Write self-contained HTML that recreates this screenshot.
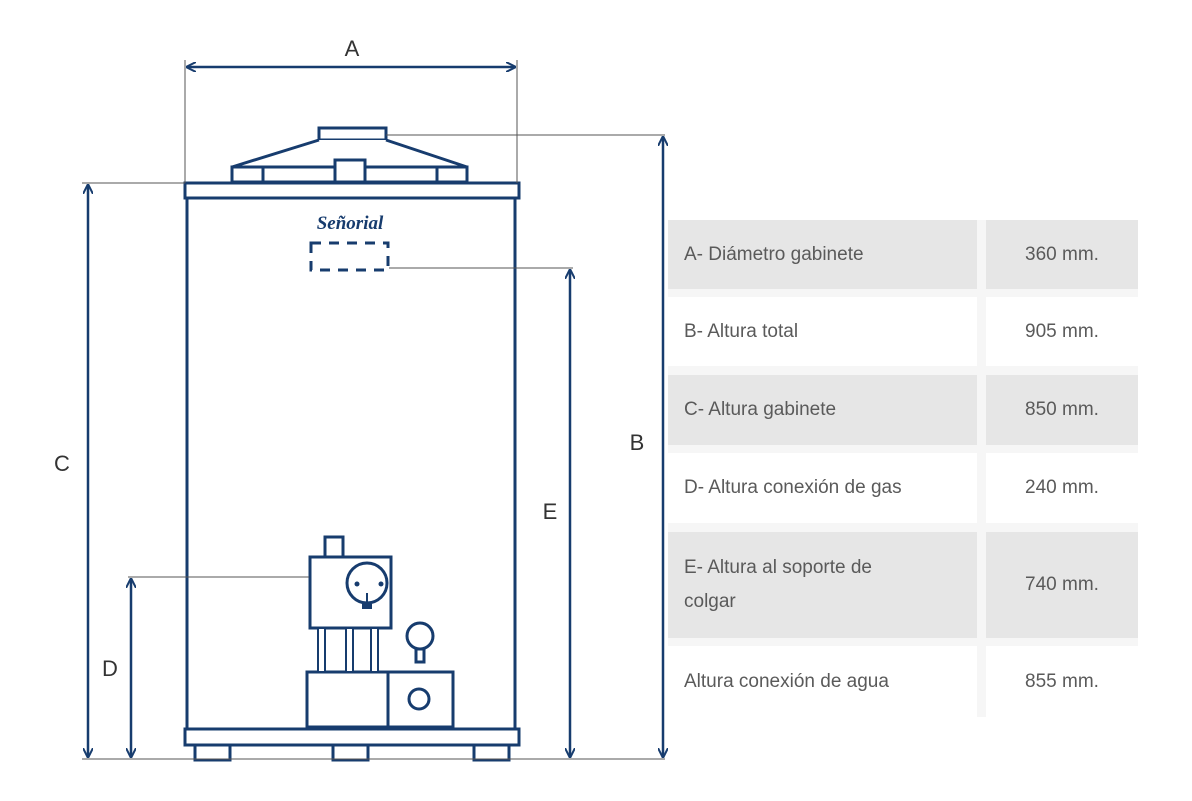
<!DOCTYPE html>
<html><head><meta charset="utf-8"><style>
body{margin:0;width:1192px;height:801px;background:#fff;overflow:hidden;position:relative;font-family:"Liberation Sans",sans-serif}
.c{position:absolute;font-size:19px;color:#5a5a5a;display:flex;align-items:center}
</style></head><body>
<svg width="1192" height="801" style="position:absolute;left:0;top:0">
<defs><marker id="ar" markerWidth="10" markerHeight="10" refX="9" refY="5" orient="auto-start-reverse" markerUnits="userSpaceOnUse"><path d="M0,0 L10,5 L0,10" fill="none" stroke="#173c6e" stroke-width="2"/></marker></defs>
<g stroke="#173c6e" stroke-width="3" fill="#fff">
<rect x="319" y="128" width="67" height="12"/>
<path d="M319,140 L232,167 L467,167 L386,140"/>
<rect x="232" y="167" width="235" height="15"/>
<rect x="232" y="167" width="31" height="15"/><rect x="437" y="167" width="30" height="15"/>
<rect x="335" y="160" width="30" height="22"/>
<rect x="187" y="198" width="328" height="531"/>
<rect x="185" y="183" width="334" height="15"/>
<rect x="185" y="729" width="334" height="16"/>
<rect x="195" y="745" width="35" height="15"/><rect x="333" y="745" width="35" height="15"/><rect x="474" y="745" width="35" height="15"/>
<rect x="311" y="243" width="77" height="27" stroke-dasharray="10,8"/>
<rect x="325" y="537" width="18" height="20"/>
<rect x="310" y="557" width="81" height="71"/>
<circle cx="367" cy="583" r="20"/>
<rect x="307" y="672" width="81" height="55"/><rect x="388" y="672" width="65" height="55"/>
<circle cx="419" cy="699" r="10"/>
<circle cx="420" cy="636" r="13"/><rect x="416" y="649" width="8" height="13"/>
</g>
<g stroke="#173c6e" stroke-width="2" fill="#fff">
<rect x="318" y="628" width="7" height="44"/><rect x="346" y="628" width="7" height="44"/><rect x="371" y="628" width="7" height="44"/>
</g>
<g fill="#173c6e"><circle cx="357" cy="584" r="2.5"/><circle cx="381" cy="584" r="2.5"/><rect x="366" y="593" width="2" height="12"/><rect x="362" y="604" width="10" height="5"/></g>
<g stroke="#555" stroke-width="1" fill="none">
<line x1="185" y1="60" x2="185" y2="183"/><line x1="517" y1="60" x2="517" y2="183"/>
<line x1="386" y1="135" x2="665" y2="135"/>
<line x1="82" y1="183" x2="185" y2="183"/>
<line x1="389" y1="268" x2="573" y2="268"/>
<line x1="128" y1="577" x2="309" y2="577"/>
<line x1="82" y1="759" x2="665" y2="759"/>
</g>
<g stroke="#173c6e" stroke-width="2.5" fill="none">
<line x1="187" y1="67" x2="515" y2="67" marker-start="url(#ar)" marker-end="url(#ar)"/>
<line x1="663" y1="137" x2="663" y2="757" marker-start="url(#ar)" marker-end="url(#ar)"/>
<line x1="88" y1="185" x2="88" y2="757" marker-start="url(#ar)" marker-end="url(#ar)"/>
<line x1="570" y1="270" x2="570" y2="757" marker-start="url(#ar)" marker-end="url(#ar)"/>
<line x1="131" y1="579" x2="131" y2="757" marker-start="url(#ar)" marker-end="url(#ar)"/>
</g>
<text x="350" y="229" text-anchor="middle" font-family="Liberation Serif,serif" font-style="italic" font-weight="bold" font-size="19" fill="#173c6e">Señorial</text>
<g font-size="22" fill="#333" font-family="Liberation Sans,sans-serif" text-anchor="middle">
<text x="352" y="56">A</text><text x="637" y="450">B</text><text x="62" y="471">C</text><text x="110" y="676">D</text><text x="550" y="519">E</text>
</g>
</svg>
<div style="position:absolute;left:668px;top:220px;width:470px;height:497px;background:#f6f6f6"></div>
<div class="c" style="left:668px;top:220px;width:309px;height:69px;background:#e6e6e6;padding-left:16px;box-sizing:border-box">A- Diámetro gabinete</div>
<div class="c" style="left:986px;top:220px;width:152px;height:69px;background:#e6e6e6;justify-content:center">360 mm.</div>
<div class="c" style="left:668px;top:297px;width:309px;height:69px;background:#fff;padding-left:16px;box-sizing:border-box">B- Altura total</div>
<div class="c" style="left:986px;top:297px;width:152px;height:69px;background:#fff;justify-content:center">905 mm.</div>
<div class="c" style="left:668px;top:375px;width:309px;height:70px;background:#e6e6e6;padding-left:16px;box-sizing:border-box">C- Altura gabinete</div>
<div class="c" style="left:986px;top:375px;width:152px;height:70px;background:#e6e6e6;justify-content:center">850 mm.</div>
<div class="c" style="left:668px;top:453px;width:309px;height:70px;background:#fff;padding-left:16px;box-sizing:border-box">D- Altura conexión de gas</div>
<div class="c" style="left:986px;top:453px;width:152px;height:70px;background:#fff;justify-content:center">240 mm.</div>
<div class="c" style="left:668px;top:532px;width:309px;height:106px;background:#e6e6e6;padding-left:16px;box-sizing:border-box;line-height:34px">E- Altura al soporte de<br>colgar</div>
<div class="c" style="left:986px;top:532px;width:152px;height:106px;background:#e6e6e6;justify-content:center">740 mm.</div>
<div class="c" style="left:668px;top:646px;width:309px;height:71px;background:#fff;padding-left:16px;box-sizing:border-box">Altura conexión de agua</div>
<div class="c" style="left:986px;top:646px;width:152px;height:71px;background:#fff;justify-content:center">855 mm.</div>
</body></html>
